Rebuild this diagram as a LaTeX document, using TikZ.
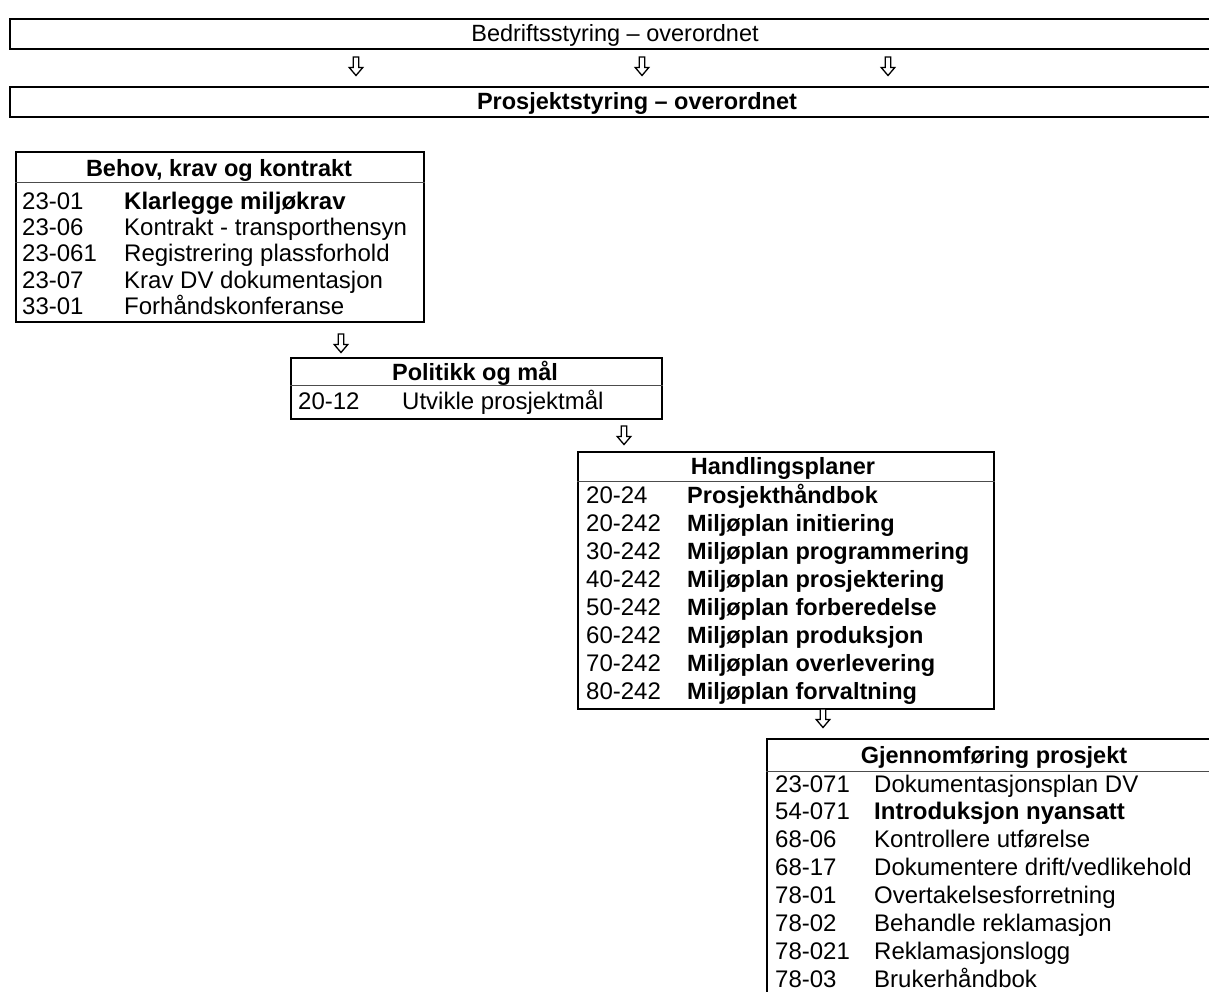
\documentclass[tikz,border=0pt]{standalone}
\usepackage{fontspec}
\setmainfont{Liberation Sans}
\usetikzlibrary{calc}
\tikzset{
  frame/.style={draw=black, line width=2pt, inner sep=0pt, anchor=north west},
  sepline/.style={draw=black!70, line width=0.8pt},
  cell/.style={inner sep=0pt, anchor=base west, font=\fontsize{24}{26}\selectfont},
  head/.style={inner sep=0pt, anchor=base, font=\fontsize{23.5}{26}\selectfont\bfseries},
  bartext/.style={inner sep=0pt, anchor=base, font=\fontsize{23.5}{26}\selectfont},
  downarrow/.pic={\draw[line width=1.3pt, line join=miter, fill=white]
     (-2.8,0) -- (2.8,0) -- (2.8,10.5) -- (6.8,10.5) -- (0,18.5) -- (-6.8,10.5) -- (-2.8,10.5) -- cycle;}
}
\begin{document}
\begin{tikzpicture}[x=1pt,y=-1pt]
\useasboundingbox[fill=white] (0,0) rectangle (1209,991);

% top bars
\node[frame, minimum width=1215pt, minimum height=30pt] (bar1) at (9,18) {};
\node[bartext] (bar1t) at (615,41) {Bedriftsstyring – overordnet};
\node[frame, minimum width=1215pt, minimum height=30pt] (bar2) at (9,86) {};
\node[bartext, font=\fontsize{23.5}{26}\selectfont\bfseries] (bar2t) at (637,109) {Prosjektstyring – overordnet};
\pic at (356,57) {downarrow};
\pic at (642,57) {downarrow};
\pic at (888,57) {downarrow};

% box 1
\node[frame, minimum width=408pt, minimum height=170pt] (b1) at (15,151) {};
\draw[sepline] ($(b1.north west)+(0,31)$) -- ($(b1.north east)+(0,31)$);
\node[head] (h1) at (219,176) {Behov, krav og kontrakt};
\foreach \n/\t [count=\i] in {23-01/{\bfseries Klarlegge miljøkrav},
    23-06/{Kontrakt - transporthensyn},
    23-061/{Registrering plassforhold},
    23-07/{Krav DV dokumentasjon},
    33-01/{Forhåndskonferanse}}{
  \node[cell] (b1n\i) at (22,{209+(\i-1)*26.4}) {\n};
  \node[cell] (b1t\i) at (124,{209+(\i-1)*26.4}) {\t};
}
\pic at (341,334) {downarrow};

% box 2
\node[frame, minimum width=371pt, minimum height=61pt] (b2) at (290,357) {};
\draw[sepline] ($(b2.north west)+(0,28)$) -- ($(b2.north east)+(0,28)$);
\node[head] (h2) at (475,380) {Politikk og mål};
\node[cell] (b2n1) at (298,409) {20-12};
\node[cell] (b2t1) at (402,409) {Utvikle prosjektmål};
\pic at (624,426) {downarrow};

% box 3
\node[frame, minimum width=416pt, minimum height=257pt] (b3) at (577,451) {};
\draw[sepline] ($(b3.north west)+(0,30)$) -- ($(b3.north east)+(0,30)$);
\node[head] (h3) at (783,474) {Handlingsplaner};
\foreach \n/\t [count=\i] in {20-24/{Prosjekthåndbok},
    20-242/{Miljøplan initiering},
    30-242/{Miljøplan programmering},
    40-242/{Miljøplan prosjektering},
    50-242/{Miljøplan forberedelse},
    60-242/{Miljøplan produksjon},
    70-242/{Miljøplan overlevering},
    80-242/{Miljøplan forvaltning}}{
  \node[cell] (b3n\i) at (586,{503+(\i-1)*28.1}) {\n};
  \node[cell, font=\fontsize{23.5}{26}\selectfont\bfseries] (b3t\i) at (687,{503+(\i-1)*28.1}) {\t};
}
\pic at (823,709) {downarrow};

% box 4
\node[frame, minimum width=456pt, minimum height=270pt] (b4) at (766,738) {};
\draw[sepline] ($(b4.north west)+(0,33)$) -- ($(b4.north east)+(0,33)$);
\node[head] (h4) at (994,763) {Gjennomføring prosjekt};
\foreach \n/\t [count=\i] in {23-071/{Dokumentasjonsplan DV},
    54-071/{\bfseries Introduksjon nyansatt},
    68-06/{Kontrollere utførelse},
    68-17/{Dokumentere drift/vedlikehold},
    78-01/{Overtakelsesforretning},
    78-02/{Behandle reklamasjon},
    78-021/{Reklamasjonslogg},
    78-03/{Brukerhåndbok}}{
  \node[cell] (b4n\i) at (775,{792+(\i-1)*27.9}) {\n};
  \node[cell] (b4t\i) at (874,{792+(\i-1)*27.9}) {\t};
}
\end{tikzpicture}
\end{document}
